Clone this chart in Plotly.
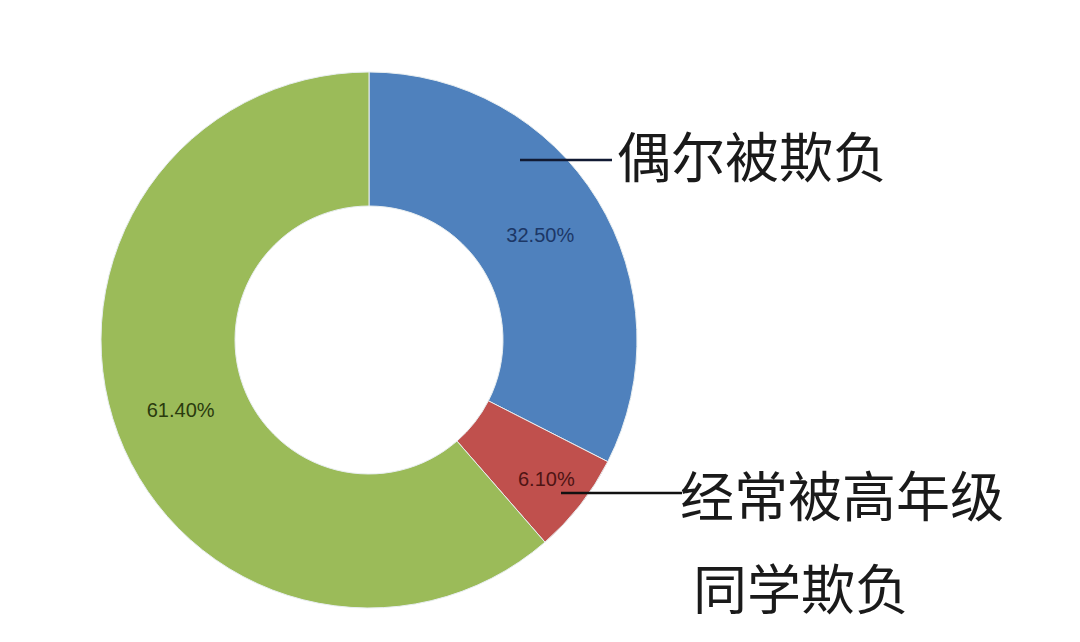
import plotly.graph_objects as go

labels = ["偶尔被欺负", "经常被高年级同学欺负", "其他"]
values = [32.5, 6.1, 61.4]
colors = ["#4F81BD", "#C0504D", "#9BBB59"]
text_colors = ["#1C3766", "#4E1414", "#2A3A0E"]
pct_labels = ["32.50%", "6.10%", "61.40%"]

W, H = 1080, 642
# page body adds an 8px margin, so shift everything up-left by that
off = 8
cx, cy, r = 369 - off, 340 - off, 268


def px(x):
    return (x - off) / W


def py(y):
    return 1 - (y - off) / H


fig = go.Figure()
fig.add_trace(go.Pie(
    labels=labels,
    values=values,
    text=pct_labels,
    textinfo="text",
    textposition="inside",
    insidetextorientation="horizontal",
    hole=0.5,
    sort=False,
    direction="clockwise",
    rotation=0,
    marker=dict(colors=colors, line=dict(color="#e8eef0", width=1)),
    textfont=dict(family="Liberation Sans, Arial", size=20, color=text_colors),
    domain=dict(x=[(cx - r) / W, (cx + r) / W], y=[(H - cy - r) / H, (H - cy + r) / H]),
    showlegend=False,
    hoverinfo="label+percent",
))

big = dict(family="Noto Sans CJK SC", size=54, color="#1a1a1a")

# callout texts
fig.add_annotation(x=px(615), y=py(155), xref="paper", yref="paper", text="偶尔被欺负",
                   showarrow=False, xanchor="left", yanchor="middle", font=big)
fig.add_annotation(x=px(678), y=py(493), xref="paper", yref="paper", text="经常被高年级",
                   showarrow=False, xanchor="left", yanchor="middle", font=big)
fig.add_annotation(x=px(691), y=py(586), xref="paper", yref="paper", text="同学欺负",
                   showarrow=False, xanchor="left", yanchor="middle", font=big)

# leader lines
fig.add_shape(type="line", xref="paper", yref="paper", x0=px(520), x1=px(612),
              y0=py(160), y1=py(160), line=dict(color="#111a33", width=2.5))
fig.add_shape(type="line", xref="paper", yref="paper", x0=px(561), x1=px(682),
              y0=py(493), y1=py(493), line=dict(color="#111111", width=2.5))

fig.update_layout(
    width=W, height=H,
    margin=dict(l=0, r=0, t=0, b=0),
    paper_bgcolor="white",
    plot_bgcolor="white",
)

fig.write_html("out.html")
